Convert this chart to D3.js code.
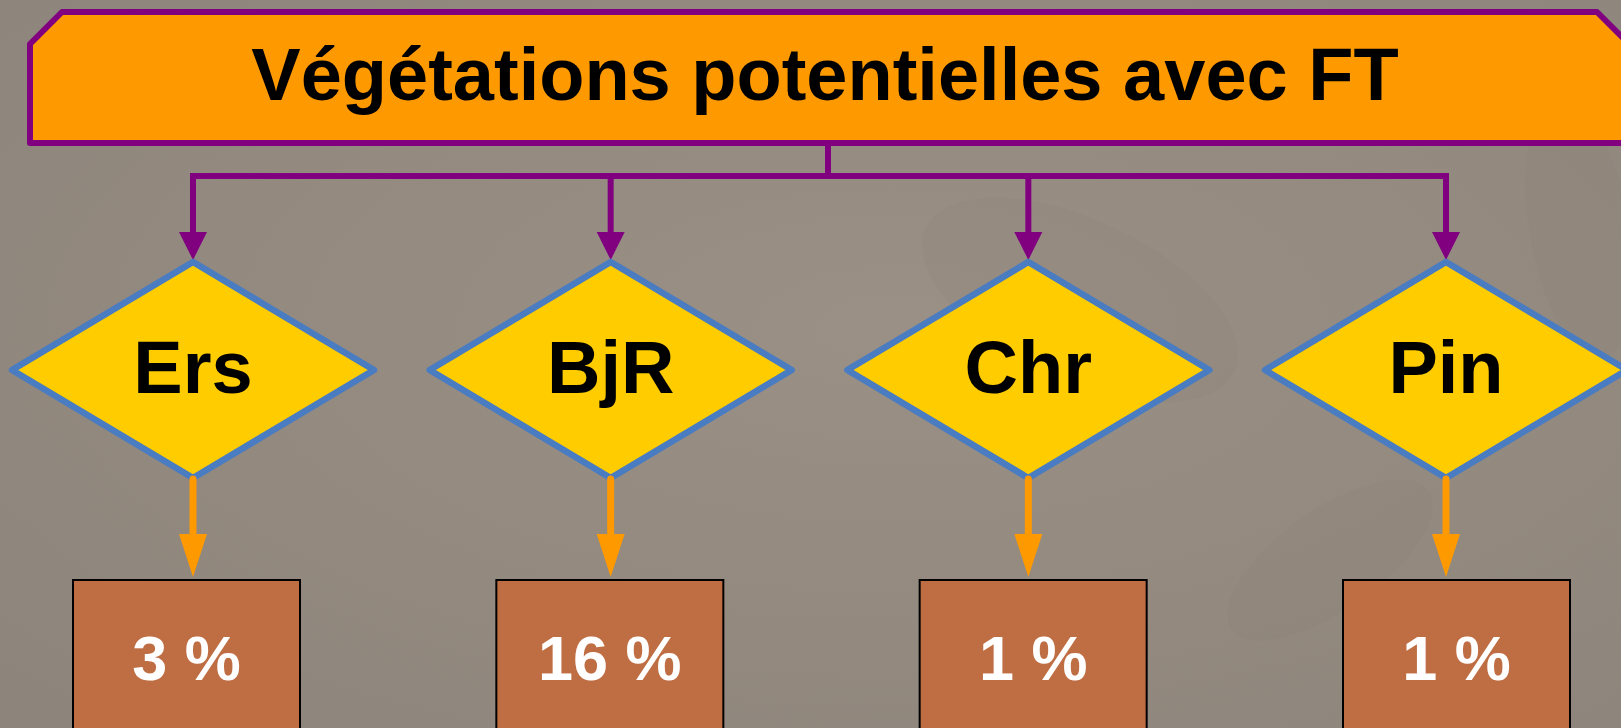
<html>
<head>
<meta charset="utf-8">
<script src="https://d3js.org/d3.v7.min.js"></script>
<style>
  body { margin: 0; background: #948a80; overflow: hidden; }
  text { font-family: "Liberation Sans", Arial, sans-serif; font-weight: bold; }
</style>
</head>
<body>
<svg id="chart" width="1621" height="728"></svg>
<script>
// data
var title = "Végétations potentielles avec FT";
var categories = ["Ers", "BjR", "Chr", "Pin"];
var shares = [3, 16, 1, 1];

var W = 1621, H = 728;
var svg = d3.select("#chart");

// background with a little light variation
var defs = svg.append("defs");
var bg = defs.append("radialGradient").attr("id", "bg")
  .attr("cx", "55%").attr("cy", "45%").attr("r", "75%");
bg.append("stop").attr("offset", "0%").attr("stop-color", "#9a9085");
bg.append("stop").attr("offset", "100%").attr("stop-color", "#8d847b");
svg.append("rect").attr("width", W).attr("height", H).attr("fill", "url(#bg)");

// faint leaf shapes in the background
var leaves = svg.append("g").attr("fill", "#7f766d").attr("opacity", 0.09);
leaves.append("ellipse").attr("cx", 1080).attr("cy", 300).attr("rx", 170).attr("ry", 80)
  .attr("transform", "rotate(25,1080,300)");
leaves.append("ellipse").attr("cx", 1580).attr("cy", 230).attr("rx", 50).attr("ry", 130)
  .attr("transform", "rotate(-10,1580,230)");
leaves.append("ellipse").attr("cx", 1330).attr("cy", 560).attr("rx", 120).attr("ry", 50)
  .attr("transform", "rotate(-35,1330,560)");

// scales
var xNode = d3.scalePoint().domain(categories).range([193, 1446]);
var xBox = d3.scalePoint().domain(categories).range([186.5, 1456.5]);

var purple = "#800080", orange = "#ff9900";

// title box with cut corners
var tb = { x0: 30, x1: 1629, y0: 12, y1: 143, cut: 32 };
svg.append("path")
  .attr("d", d3.line()([
    [tb.x0, tb.y0 + tb.cut], [tb.x0 + tb.cut, tb.y0], [tb.x1 - tb.cut, tb.y0],
    [tb.x1, tb.y0 + tb.cut], [tb.x1, tb.y1], [tb.x0, tb.y1]
  ]) + "Z")
  .attr("fill", "#ff9900").attr("stroke", purple).attr("stroke-width", 6)
  .attr("stroke-linejoin", "round");
svg.append("text").attr("x", 825).attr("y", 100)
  .attr("text-anchor", "middle").attr("font-size", 74).attr("fill", "#000")
  .text(title);

// purple connectors
var busY = 176, headTop = 232, tipY = 260;
svg.append("path")
  .attr("d", "M828,146V" + busY + "M" + xNode(categories[0]) + "," + busY +
    "H" + xNode(categories[categories.length - 1]))
  .attr("stroke", purple).attr("stroke-width", 6).attr("fill", "none");
svg.selectAll(".drop").data(categories).enter().append("path")
  .attr("d", function (d) { return "M" + xNode(d) + "," + (busY - 3) + "V" + (headTop + 2); })
  .attr("stroke", purple).attr("stroke-width", 6).attr("fill", "none");
svg.selectAll(".phead").data(categories).enter().append("path")
  .attr("d", function (d) {
    var x = xNode(d);
    return "M" + (x - 14) + "," + headTop + "L" + (x + 14) + "," + headTop + "L" + x + "," + tipY + "Z";
  })
  .attr("fill", purple);

// decision diamonds
var cy = 370, hw = 181, hh = 108;
svg.selectAll(".diamond").data(categories).enter().append("path")
  .attr("d", function (d) {
    var x = xNode(d);
    return "M" + x + "," + (cy - hh) + "L" + (x + hw) + "," + cy + "L" + x + "," + (cy + hh) +
      "L" + (x - hw) + "," + cy + "Z";
  })
  .attr("fill", "#ffcc00").attr("stroke", "#4a7cc2").attr("stroke-width", 6.5)
  .attr("stroke-linejoin", "round");
svg.selectAll(".dlabel").data(categories).enter().append("text")
  .attr("x", function (d) { return xNode(d); }).attr("y", 393)
  .attr("text-anchor", "middle").attr("font-size", 74).attr("fill", "#000")
  .text(function (d) { return d; });

// orange arrows
var aTop = 479, aHead = 534, aTip = 577;
svg.selectAll(".oline").data(categories).enter().append("line")
  .attr("x1", function (d) { return xNode(d); }).attr("x2", function (d) { return xNode(d); })
  .attr("y1", aTop).attr("y2", aHead + 2)
  .attr("stroke", orange).attr("stroke-width", 7).attr("stroke-linecap", "round");
svg.selectAll(".ohead").data(categories).enter().append("path")
  .attr("d", function (d) {
    var x = xNode(d);
    return "M" + (x - 14) + "," + aHead + "L" + (x + 14) + "," + aHead + "L" + x + "," + aTip + "Z";
  })
  .attr("fill", orange);

// result boxes
var boxW = 227, boxTop = 580;
var boxes = svg.selectAll(".box").data(categories).enter().append("g");
boxes.append("rect")
  .attr("x", function (d) { return xBox(d) - boxW / 2; }).attr("y", boxTop)
  .attr("width", boxW).attr("height", 200)
  .attr("fill", "#bf6d42").attr("stroke", "#000").attr("stroke-width", 2);
boxes.append("text")
  .attr("x", function (d) { return xBox(d); }).attr("y", 680)
  .attr("text-anchor", "middle").attr("font-size", 63).attr("fill", "#fff")
  .text(function (d, i) { return shares[i] + " %"; });
</script>
</body>
</html>
